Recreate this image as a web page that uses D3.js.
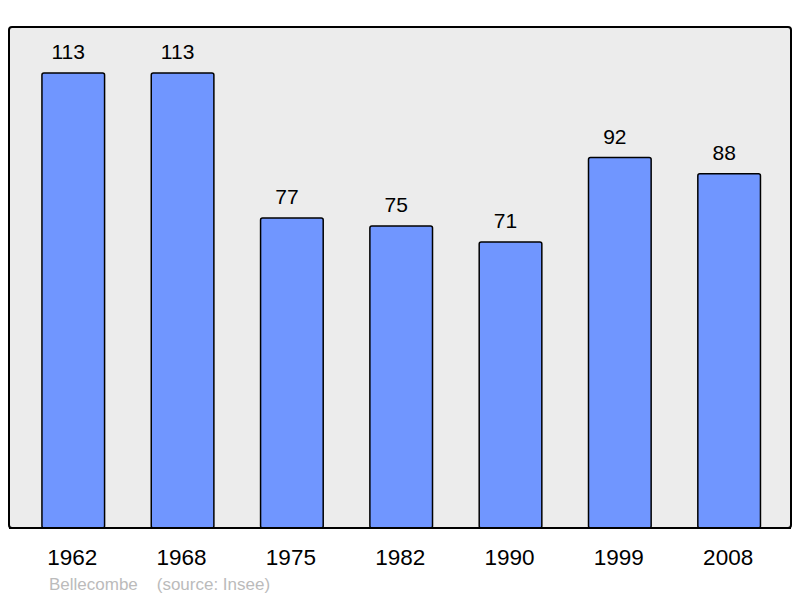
<!DOCTYPE html>
<html><head><meta charset="utf-8">
<script src="https://cdn.jsdelivr.net/npm/d3@7"></script>
<style>body{margin:0;background:#fff}svg{display:block}</style>
</head><body>
<script>
const years = ["1962","1968","1975","1982","1990","1999","2008"];
const population = [113,113,77,75,71,92,88];
const footerName = "Bellecombe";
const footerSource = "(source: Insee)";

const W = 800, H = 598;
const svg = d3.select("body").append("svg").attr("width", W).attr("height", H);

const panel = {x0: 9, y0: 27, x1: 791, y1: 528};
svg.append("rect").attr("x", panel.x0).attr("y", panel.y0)
  .attr("width", panel.x1 - panel.x0).attr("height", panel.y1 - panel.y0)
  .attr("rx", 3).attr("fill", "#ececec").attr("stroke", "#000").attr("stroke-width", 2);

const x = d3.scaleBand().domain(years).range([18.6, 783.8]).paddingInner(0.427).paddingOuter(0.2135);
const y = d3.scaleLinear().domain([0, 113]).range([panel.y1, 73]);

const data = years.map((yr, i) => ({yr, v: population[i]}));

svg.selectAll("rect.bar").data(data).join("rect").attr("class", "bar")
  .attr("x", d => x(d.yr)).attr("y", d => y(d.v))
  .attr("width", x.bandwidth()).attr("height", d => y(0) - y(d.v))
  .attr("rx", 2)
  .attr("fill", "#7096ff").attr("stroke", "#000").attr("stroke-width", 1.5);

svg.append("line").attr("x1", panel.x0).attr("x2", panel.x1).attr("y1", panel.y1).attr("y2", panel.y1)
  .attr("stroke", "#000").attr("stroke-width", 2);

svg.selectAll("text.val").data(data).join("text").attr("class", "val")
  .attr("x", d => x(d.yr) + x.bandwidth() / 2 - 5).attr("y", d => y(d.v) - 14)
  .attr("text-anchor", "middle").attr("font-family", "Liberation Sans, Arial, sans-serif")
  .attr("font-size", 21).attr("fill", "#000").text(d => d.v);

const xAxis = d3.axisBottom(x).tickSize(0).tickPadding(0);
const gx = svg.append("g").attr("transform", `translate(-1,${565})`).call(xAxis);
gx.select(".domain").remove();
gx.selectAll("text").attr("dy", 0).attr("font-family", "Liberation Sans, Arial, sans-serif")
  .attr("font-size", 22.5).attr("fill", "#000");

svg.append("text").attr("x", 49).attr("y", 590).attr("font-family", "Liberation Sans, Arial, sans-serif")
  .attr("font-size", 17).attr("fill", "#bbbbbb").attr("xml:space", "preserve")
  .text(footerName + "    " + footerSource);
</script>
</body></html>
